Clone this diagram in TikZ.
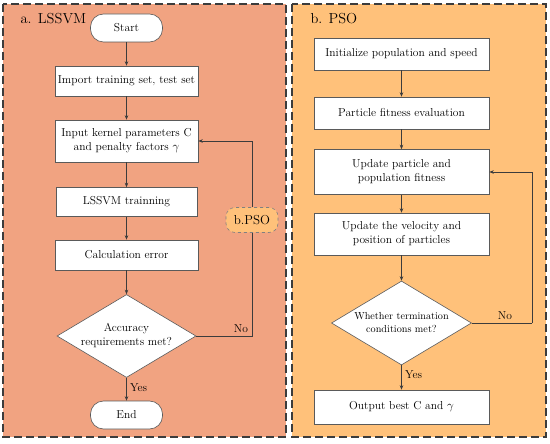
\documentclass[tikz,border=0pt]{standalone}
\usetikzlibrary{arrows.meta,shapes.geometric}
\definecolor{salmonbg}{RGB}{241,163,129}
\definecolor{orangebg}{RGB}{255,193,122}
\definecolor{edgegray}{RGB}{60,60,60}
\definecolor{boxgray}{RGB}{90,90,90}
\begin{document}
\begin{tikzpicture}[x=1pt,y=-1pt,
  panel/.style={draw=edgegray,line width=1.4pt,dash pattern=on 8pt off 4pt},
  boxnode/.style={draw=boxgray,fill=white,line width=0.6pt,align=center,inner sep=2pt,font=\fontsize{11.5}{14}\selectfont},
  termnode/.style={draw=boxgray,fill=white,line width=0.6pt,rounded corners=13pt,minimum width=72pt,minimum height=28pt,font=\fontsize{11.5}{14}\selectfont},
  decnode/.style={draw=boxgray,fill=white,line width=0.6pt,shape=diamond,aspect=1.67,inner sep=0pt,align=center},
  arr/.style={draw=edgegray,line width=0.6pt,-{Stealth[length=4.5pt,width=3.5pt]}},
  ln/.style={draw=edgegray,line width=0.6pt},
  lbl/.style={font=\fontsize{11.5}{14}\selectfont},
  ttl/.style={font=\fontsize{14.5}{16}\selectfont,anchor=west}]
\useasboundingbox (0,0) rectangle (550,444);
\fill[white] (0,0) rectangle (550,444);
\draw[panel,fill=salmonbg] (3,4) rectangle (286,437);
\draw[panel,fill=orangebg] (292,4) rectangle (546,437);
\node[ttl] (ta) at (17,19) {a. LSSVM};
\node[ttl] (tb) at (307,19) {b. PSO};
% left flow
\node[termnode] (start) at (126.5,28) {Start};
\node[boxnode,minimum width=143pt,minimum height=30pt] (imp) at (126.5,81) {Import training set, test set};
\node[boxnode,minimum width=143pt,minimum height=42pt] (kern) at (126.5,141) {Input kernel parameters C\\and penalty factors $\gamma$};
\node[boxnode,minimum width=141pt,minimum height=29pt] (train) at (126.5,202) {LSSVM trainning};
\node[boxnode,minimum width=143pt,minimum height=30pt] (calc) at (126.5,255) {Calculation error};
\node[decnode,minimum width=139pt,minimum height=83pt,font=\fontsize{11.5}{14}\selectfont] (acc) at (126.5,336) {Accuracy\\requirements met?};
\node[termnode] (end) at (126.5,415) {End};
\node[draw=gray,dashed,fill=orangebg,line width=0.6pt,rounded corners=9pt,minimum width=52pt,minimum height=25pt,inner sep=1pt,font=\fontsize{13}{15}\selectfont] (bpso) at (252,220) {b.PSO};
\draw[arr] (start) -- (imp);
\draw[arr] (imp) -- (kern);
\draw[arr] (kern) -- (train);
\draw[arr] (train) -- (calc);
\draw[arr] (calc) -- (acc);
\draw[arr] (acc) -- node[lbl,right,pos=0.45] {Yes} (end);
\draw[ln] (acc.east) -| node[lbl,above,pos=0.4] {No} (bpso.south);
\draw[arr] (bpso.north) |- (kern.east);
% right flow
\node[boxnode,minimum width=175pt,minimum height=32pt] (init) at (401.5,54) {Initialize population and speed};
\node[boxnode,minimum width=175pt,minimum height=32pt] (fit) at (401.5,113) {Particle fitness evaluation};
\node[boxnode,minimum width=175pt,minimum height=45pt] (upd) at (401.5,172) {Update particle and\\population fitness};
\node[boxnode,minimum width=175pt,minimum height=42pt] (vel) at (401.5,234) {Update the velocity and\\position of particles};
\node[decnode,minimum width=140pt,minimum height=84pt,font=\fontsize{10.2}{13}\selectfont] (term) at (401.5,323) {Whether termination\\conditions met?};
\node[boxnode,minimum width=175pt,minimum height=34pt] (out) at (401.5,407) {Output best C and $\gamma$};
\coordinate (rc) at (532,323);
\draw[arr] (init) -- (fit);
\draw[arr] (fit) -- (upd);
\draw[arr] (upd) -- (vel);
\draw[arr] (vel) -- (term);
\draw[arr] (term) -- node[lbl,right,pos=0.4] {Yes} (out);
\draw[ln] (term.east) -- node[lbl,above,pos=0.55] {No} (rc);
\draw[arr] (rc) |- (upd.east);
\end{tikzpicture}
\end{document}
